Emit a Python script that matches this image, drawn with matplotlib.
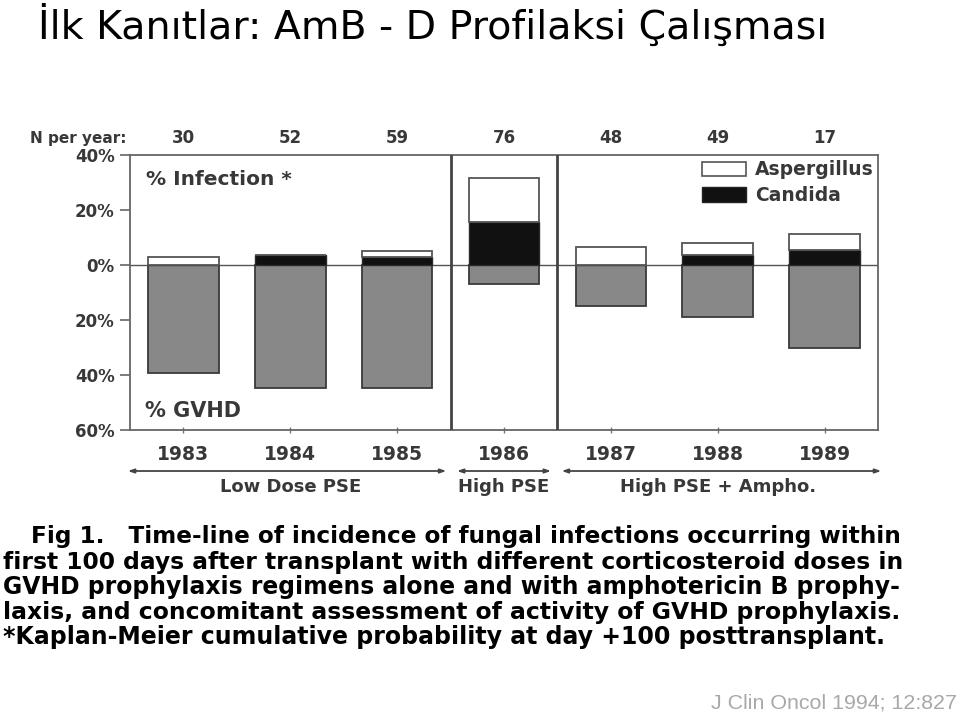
import matplotlib
matplotlib.use("Agg")
import matplotlib.pyplot as plt
from matplotlib.patches import Patch
from matplotlib.transforms import blended_transform_factory

# ---------------- data ----------------
years = ["1983", "1984", "1985", "1986", "1987", "1988", "1989"]
n_per_year = ["30", "52", "59", "76", "48", "49", "17"]
candida = [0.0, 3.6, 3.0, 15.5, 0.0, 3.6, 5.5]
aspergillus = [3.0, 0.0, 2.2, 16.0, 6.7, 4.5, 5.8]
gvhd = [39.4, 44.8, 44.6, 7.0, 14.8, 19.0, 30.3]
ytick_vals = [40, 20, 0, -20, -40, -60]
ytick_labels = ["40%", "20%", "0%", "20%", "40%", "60%"]
groups = ["Low Dose PSE", "High PSE", "High PSE + Ampho."]
group_span = [(-0.52, 2.46), (2.56, 3.44), (3.54, 6.53)]
group_center = [1, 3, 5]
separators = [2.5, 3.5]

title = "İlk Kanıtlar: AmB - D Profilaksi Çalışması"
caption = [
    "Fig 1.   Time-line of incidence of fungal infections occurring within",
    "first 100 days after transplant with different corticosteroid doses in",
    "GVHD prophylaxis regimens alone and with amphotericin B prophy-",
    "laxis, and concomitant assessment of activity of GVHD prophylaxis.",
    "*Kaplan-Meier cumulative probability at day +100 posttransplant.",
]
citation = "J Clin Oncol 1994; 12:827"

W, H = 960, 715
fig = plt.figure(figsize=(W / 100, H / 100), dpi=100)
fig.patch.set_facecolor("white")

def fx(x):
    return x / W

def fy(y):
    return 1 - y / H

INK = "#383838"

# ---------------- chart ----------------
ax_l, ax_r, ax_t, ax_b = 130, 878, 155, 430
ax = fig.add_axes([fx(ax_l), fy(ax_b), (ax_r - ax_l) / W, (ax_b - ax_t) / H])
x = list(range(len(years)))
bw = 0.66
neg_gvhd = [-g for g in gvhd]
ax.bar(x, neg_gvhd, width=bw, color="#888888", edgecolor="#3a3a3a", linewidth=1.3, zorder=3)
ax.bar(x, candida, width=bw, color="#111111", edgecolor="#2a2a2a", linewidth=1.0, zorder=3)
ax.bar(x, aspergillus, width=bw, bottom=candida, color="white", edgecolor="#555555",
       linewidth=1.3, zorder=3)
ax.axhline(0, color="#555555", linewidth=1.0, zorder=2)
for s in separators:
    ax.axvline(s, color="#444444", linewidth=2.0, zorder=4)

ax.set_xlim(-0.5, 6.5)
ax.set_ylim(-60, 40)
ax.set_yticks(ytick_vals)
ax.set_yticklabels(ytick_labels)
ax.set_xticks(x)
ax.set_xticklabels(years)
ax.tick_params(axis="y", direction="out", length=7, width=1.2, color="#666666",
               labelsize=12, labelcolor=INK, pad=4)
ax.tick_params(axis="x", direction="inout", length=5, width=1.0, color="#777777",
               labelsize=13.5, labelcolor=INK, pad=8)
for lab in ax.get_xticklabels() + ax.get_yticklabels():
    lab.set_fontweight("bold")
for sp in ax.spines.values():
    sp.set_color("#666666")
    sp.set_linewidth(1.3)

ax.text(0.022, 0.91, "% Infection *", transform=ax.transAxes, fontsize=14.5,
        fontweight="bold", color=INK, va="center", ha="left")
ax.text(0.02, 0.07, "% GVHD", transform=ax.transAxes, fontsize=15,
        fontweight="bold", color=INK, va="center", ha="left")

# N per year
trans_np = blended_transform_factory(ax.transData, fig.transFigure)
for xi, n in zip(x, n_per_year):
    ax.text(xi, fy(138), n, transform=trans_np, ha="center", va="center",
            fontsize=12, fontweight="bold", color=INK)
fig.text(fx(127), fy(138), "N per year:", ha="right", va="center", fontsize=11,
         fontweight="bold", color=INK)

# group arrows and labels
for (a, b), c, g in zip(group_span, group_center, groups):
    ax.annotate("", xy=(b, fy(471)), xytext=(a, fy(471)), xycoords=trans_np,
                textcoords=trans_np,
                arrowprops=dict(arrowstyle="<|-|>,head_length=0.35,head_width=0.12",
                                color="#444444", lw=1.3, shrinkA=0, shrinkB=0),
                annotation_clip=False)
    ax.text(c, fy(487), g, transform=trans_np, ha="center", va="center",
            fontsize=13, fontweight="bold", color=INK)

# legend
handles = [Patch(facecolor="white", edgecolor="#555555", linewidth=1.2, label="Aspergillus"),
           Patch(facecolor="#111111", edgecolor="#222222", linewidth=1.0, label="Candida")]
leg = fig.legend(handles=handles, loc="upper left", bbox_to_anchor=(fx(693), fy(151)),
                 frameon=False, borderpad=0, handlelength=2.35, handleheight=0.8,
                 handletextpad=0.45, labelspacing=0.35, prop=dict(size=13.5, weight="bold"))
for t in leg.get_texts():
    t.set_color(INK)

# ---------------- slide texts ----------------
title_t = fig.text(fx(38), fy(25), title, ha="left", va="center", fontsize=28,
                   family="DejaVu Sans", color="black")
cap_y = [537, 562, 587, 612, 637]
cap_x = [(31, 903), (3, 903), (3, 903), (3, 900), (3, 888)]
cap_ts = []
for txt, yy in zip(caption, cap_y):
    cap_ts.append(fig.text(0, fy(yy), txt, ha="left", va="center", fontsize=15,
                           family="DejaVu Sans", fontweight="bold", color="black"))
cit_t = fig.text(fx(957), fy(703), citation, ha="right", va="center", fontsize=13,
                 family=["Liberation Sans Narrow", "Liberation Sans"], color="#a8a8a8")

fig.canvas.draw()
r = fig.canvas.get_renderer()

def fit(t, x0, x1):
    bb = t.get_window_extent(r)
    t.set_fontsize(t.get_fontsize() * (x1 - x0) / bb.width)

fit(title_t, 38, 826)
for t, (a, b) in zip(cap_ts, cap_x):
    fit(t, a, b)
    t.set_x(fx(a))
fit(cit_t, 712, 957)

fig.savefig("out.png", dpi=100, facecolor="white")
